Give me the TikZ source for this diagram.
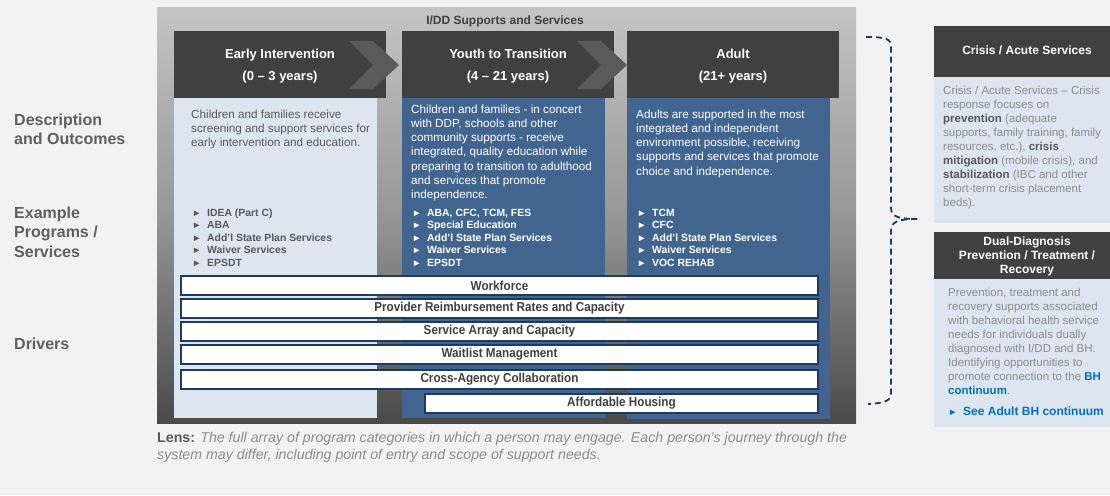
\documentclass[tikz,border=0pt]{standalone}
\usepackage{fontspec}
\setmainfont{Liberation Sans}
\newfontfamily\narrowfont[FakeStretch=0.9]{Liberation Sans}

\definecolor{pagebg}{HTML}{F2F2F2}
\definecolor{headgrey}{HTML}{404040}
\definecolor{chevgrey}{HTML}{5A5A5A}
\definecolor{paleblue}{HTML}{DCE5F0}
\definecolor{midblue}{HTML}{426590}
\definecolor{navy}{HTML}{1F3A5F}
\definecolor{labelgrey}{HTML}{5F5F5F}
\definecolor{textgrey}{HTML}{595959}
\definecolor{softgrey}{HTML}{8C8C8C}
\definecolor{linkblue}{HTML}{0070C0}

\newcommand{\itm}[1]{\makebox[15pt][l]{\fontsize{9.5}{9.5}\selectfont ►}#1}
\newcommand{\hl}[1]{\textbf{\color{textgrey}#1}}

\tikzset{
  box/.style={anchor=north west, inner sep=0pt, outer sep=0pt},
  panel/.style={box, top color=#1, bottom color=black!71, middle color=black!41},
  palebody/.style={box, fill=paleblue},
  bluebody/.style={box, fill=midblue},
  headbox/.style={box, fill=headgrey},
  headtext/.style={anchor=base, align=center, inner sep=0pt, text=white,
    font=\fontsize{13}{22}\selectfont\bfseries},
  sidetitle/.style={anchor=base, align=center, inner sep=0pt, text=white,
    font=\fontsize{12}{14}\selectfont\bfseries},
  desc/.style={anchor=base west, align=left, inner sep=0pt,
    font=\fontsize{11.7}{14.3}\selectfont},
  items/.style={anchor=base west, align=left, inner sep=0pt,
    font=\fontsize{10.4}{12.5}\selectfont\bfseries},
  sidetext/.style={anchor=base west, align=left, inner sep=0pt, text=softgrey,
    font=\fontsize{11.5}{14}\selectfont},
  driver/.style={box, draw=navy, line width=1.3pt, fill=white, minimum height=19pt,
    text=headgrey, font=\narrowfont\fontsize{13}{13}\selectfont\bfseries},
  rowlabel/.style={anchor=base west, align=left, inner sep=0pt, text=labelgrey,
    font=\fontsize{16}{19.5}\selectfont\bfseries},
  chevron/.style={fill=chevgrey},
  brace/.style={draw=navy, line width=1.8pt, dash pattern=on 6pt off 4pt}
}

\begin{document}
\begin{tikzpicture}[x=1pt, y=-1pt]

  \useasboundingbox (0,0) rectangle (1110,495);
  \fill[pagebg] (0,0) rectangle (1110,495);

  % row labels (placed at the baseline of their last line)
  \node[rowlabel] (lDesc) at (14,144.5) {Description\\and Outcomes};
  \node[rowlabel] (lProg) at (14,257) {Example\\Programs /\\Services};
  \node[rowlabel] (lDriv) at (14,349) {Drivers};

  % main panel
  \node[panel=black!23, minimum width=699pt, minimum height=415pt] (panel) at (157,8) {};
  \node[anchor=base, inner sep=0pt, text=headgrey, font=\fontsize{12}{12}\selectfont\bfseries]
     (ptitle) at (505,25) {I/DD Supports and Services};

  % column bodies
  \node[palebody, minimum width=203pt, minimum height=320pt] (EIbody) at (174,98) {};
  \node[bluebody, minimum width=203pt, minimum height=320pt] (YTbody) at (402,98) {};
  \node[bluebody, minimum width=203pt, minimum height=321pt] (ADbody) at (627,98) {};

  % column headers
  \node[headbox, minimum width=212pt, minimum height=67pt] (EI) at (174,31) {};
  \node[headbox, minimum width=212pt, minimum height=67pt] (YT) at (402,31) {};
  \node[headbox, minimum width=212pt, minimum height=67pt] (AD) at (627,31) {};

  \fill[chevron] (349,41) -- (373,41) -- (399,65) -- (373,89) -- (349,89) -- (373,65) -- cycle;
  \fill[chevron] (577,41) -- (601,41) -- (627,65) -- (601,89) -- (577,89) -- (601,65) -- cycle;

  \node[headtext] (EItitle) at (280,81) {Early Intervention\\(0 -- 3 years)};
  \node[headtext] (YTtitle) at (508,81) {Youth to Transition\\(4 -- 21 years)};
  \node[headtext] (ADtitle) at (733,81) {Adult\\(21+ years)};

  % descriptions
  \node[desc, text=textgrey] (EIdesc) at (191,146.6) {Children and families receive\\screening and support services for\\early intervention and education.};
  \node[desc, text=white] (YTdesc) at (411,198.8) {Children and families - in concert\\with DDP, schools and other\\community supports - receive\\integrated, quality education while\\preparing to transition to adulthood\\and services that promote\\independence.};
  \node[desc, text=white] (ADdesc) at (636,175.2) {Adults are supported in the most\\integrated and  independent\\environment possible, receiving\\supports and services that promote\\choice and independence.};

  % example programs
  \node[items, text=textgrey] (EIlist) at (192,266) {\itm{IDEA (Part C)}\\\itm{ABA}\\\itm{Add'l State Plan Services}\\\itm{Waiver Services}\\\itm{EPSDT}};
  \node[items, text=white] (YTlist) at (412,266) {\itm{ABA, CFC, TCM, FES}\\\itm{Special Education}\\\itm{Add'l State Plan Services}\\\itm{Waiver Services}\\\itm{EPSDT}};
  \node[items, text=white] (ADlist) at (637,266) {\itm{TCM}\\\itm{CFC}\\\itm{Add'l State Plan Services}\\\itm{Waiver Services}\\\itm{VOC REHAB}};

  % drivers
  \node[driver, minimum width=637pt] (d1) at (181,276) {Workforce};
  \node[driver, minimum width=637pt] (d2) at (181,299) {Provider Reimbursement Rates and Capacity};
  \node[driver, minimum width=637pt] (d3) at (181,322) {Service Array and Capacity};
  \node[driver, minimum width=637pt] (d4) at (181,345) {Waitlist Management};
  \node[driver, minimum width=637pt] (d5) at (181,370) {Cross-Agency Collaboration};
  \node[driver, minimum width=393pt] (d6) at (425,394) {Affordable Housing};

  % lens note
  \node[anchor=base west, align=left, inner sep=0pt, text=softgrey,
        font=\fontsize{14.2}{17}\selectfont\itshape] (lens) at (157,459)
     {{\upshape\bfseries\color{textgrey}Lens:} The full array of program categories in which a person may engage. Each person’s journey through the\\system may differ, including point of entry and scope of support needs.};

  % brace to the side boxes
  \coordinate (bTop) at (866,37);
  \coordinate (bMid) at (917,219);
  \coordinate (bBot) at (868,404);
  \draw[brace] (bTop) .. controls (887,37) and (891,39) .. (891,47) -- (891,208)
     .. controls (891,216) and (897,219) .. (bMid);
  \draw[brace] (bMid) .. controls (897,219) and (891,222) .. (891,231) -- (891,393)
     .. controls (891,400) and (887,403) .. (bBot);

  % crisis box
  \node[headbox, minimum width=186pt, minimum height=51pt] (CR) at (934,26) {};
  \node[sidetitle] (CRtitle) at (1027,55) {Crisis / Acute Services};
  \node[palebody, minimum width=186pt, minimum height=146pt] (CRbody) at (934,77) {};
  \node[sidetext] (CRtext) at (943,206) {Crisis / Acute Services -- Crisis\\response focuses on\\\hl{prevention} (adequate\\supports, family training,  family\\resources, etc.), \hl{crisis}\\\hl{mitigation} (mobile crisis), and\\\hl{stabilization} (IBC and other\\short-term crisis placement\\beds).};

  % dual diagnosis box
  \node[headbox, minimum width=186pt, minimum height=47pt] (DD) at (934,232) {};
  \node[sidetitle] (DDtitle) at (1027,273) {Dual-Diagnosis\\Prevention / Treatment /\\Recovery};
  \node[palebody, minimum width=186pt, minimum height=148pt] (DDbody) at (934,279) {};
  \node[sidetext] (DDtext) at (948,394) {Prevention, treatment and\\recovery supports associated\\with behavioral health service\\needs for individuals dually\\diagnosed with I/DD and BH.\\Identifying opportunities to\\promote connection to the \textbf{\color{linkblue}BH}\\\textbf{\color{linkblue}continuum}.};
  \node[anchor=base west, inner sep=0pt, text=linkblue, font=\fontsize{12}{12}\selectfont\bfseries]
     (DDlink) at (948,415) {\itm{See Adult BH continuum}};

\end{tikzpicture}
\end{document}
